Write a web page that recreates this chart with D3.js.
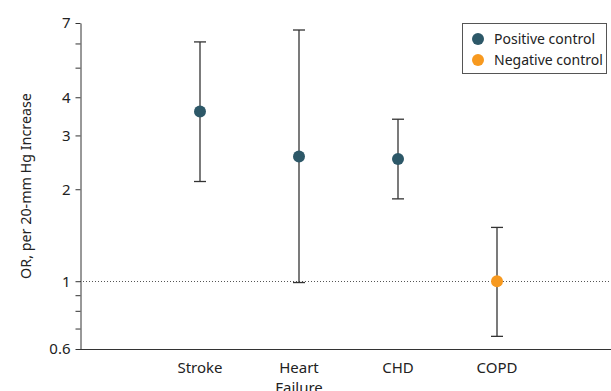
<!DOCTYPE html>
<html>
<head>
<meta charset="utf-8">
<script src="https://cdn.jsdelivr.net/npm/d3@7"></script>
<style>
  body { margin: 0; background: #fff; }
  text { font-family: "Noto Sans", sans-serif; fill: #222; }
</style>
</head>
<body>
<div id="chart"></div>
<script>
var width = 611,
    height = 391;

var margin = {top: 23, right: 0, bottom: 42, left: 80};

// data
var categories = [["Stroke"], ["Heart", "Failure"], ["CHD"], ["COPD"]];
var estimates = [3.59, 2.56, 2.51, 1.0];
var lower = [2.12, 0.99, 1.86, 0.66];
var upper = [6.07, 6.64, 3.39, 1.50];
var groups = ["Positive control", "Positive control", "Positive control", "Negative control"];

var majorTicks = [0.6, 1, 2, 3, 4, 7];
var minorTicks = [0.7, 0.8, 0.9, 5, 6];

var legendItems = ["Positive control", "Negative control"];
var colors = ["#2d5868", "#f7991f"];

var svg = d3.select("#chart")
  .append("svg")
    .attr("width", width)
    .attr("height", height);

var y = d3.scaleLog()
  .domain([0.6, 7])
  .range([height - margin.bottom, margin.top]);

var x = d3.scalePoint()
  .domain(d3.range(categories.length))
  .range([200, 497]);

var color = d3.scaleOrdinal()
  .domain(legendItems)
  .range(colors);

// reference line at OR = 1
svg.append("line")
  .attr("x1", margin.left).attr("x2", width)
  .attr("y1", Math.round(y(1)) + 0.5).attr("y2", Math.round(y(1)) + 0.5)
  .attr("stroke", "#555")
  .attr("stroke-dasharray", "1,2");

// y axis
var yAxis = svg.append("g")
  .attr("transform", "translate(" + (margin.left + 0.5) + ",0)")
  .call(d3.axisLeft(y)
    .tickValues(majorTicks)
    .tickFormat(d3.format("~g"))
    .tickSize(5)
    .tickSizeOuter(0));
yAxis.select(".domain").attr("stroke", "#333");
yAxis.selectAll(".tick line").attr("stroke", "#333");
yAxis.selectAll(".tick text")
  .attr("font-size", 15)
  .attr("font-family", "Noto Sans")
  .attr("fill", "#222")
  .attr("x", -10);

// minor ticks, no labels
svg.append("g")
  .attr("transform", "translate(" + (margin.left + 0.5) + ",0)")
  .call(d3.axisLeft(y).tickValues(minorTicks).tickFormat(function() { return ""; }).tickSize(5))
  .call(function(g) { g.select(".domain").remove(); })
  .selectAll(".tick line").attr("stroke", "#333");

// x baseline
svg.append("line")
  .attr("x1", margin.left).attr("x2", width)
  .attr("y1", y(0.6) + 0.5).attr("y2", y(0.6) + 0.5)
  .attr("stroke", "#333");

// x labels
var xl = svg.selectAll(".xlabel")
  .data(categories)
  .enter().append("text")
    .attr("class", "xlabel")
    .attr("text-anchor", "middle")
    .attr("font-size", 15)
    .attr("y", 373);
xl.selectAll("tspan")
  .data(function(d, i) { return d.map(function(s) { return {s: s, i: i}; }); })
  .enter().append("tspan")
    .attr("x", function(d) { return x(d.i); })
    .attr("dy", function(d, j) { return j ? 20 : 0; })
    .text(function(d) { return d.s; });

// y title
svg.append("text")
  .attr("transform", "translate(31," + ((y(0.6) + y(7)) / 2) + ") rotate(-90)")
  .attr("text-anchor", "middle")
  .attr("font-size", 14.3)
  .text("OR, per 20-mm Hg Increase");

// error bars
var bars = svg.selectAll(".ci")
  .data(estimates)
  .enter().append("g")
    .attr("class", "ci")
    .attr("stroke", "#333")
    .attr("stroke-width", 1.3);
bars.append("line")
  .attr("x1", function(d, i) { return x(i); })
  .attr("x2", function(d, i) { return x(i); })
  .attr("y1", function(d, i) { return y(lower[i]); })
  .attr("y2", function(d, i) { return y(upper[i]); });
bars.append("line")
  .attr("x1", function(d, i) { return x(i) - 6; })
  .attr("x2", function(d, i) { return x(i) + 6; })
  .attr("y1", function(d, i) { return y(lower[i]); })
  .attr("y2", function(d, i) { return y(lower[i]); });
bars.append("line")
  .attr("x1", function(d, i) { return x(i) - 6; })
  .attr("x2", function(d, i) { return x(i) + 6; })
  .attr("y1", function(d, i) { return y(upper[i]); })
  .attr("y2", function(d, i) { return y(upper[i]); });

// points
svg.selectAll(".pt")
  .data(estimates)
  .enter().append("circle")
    .attr("class", "pt")
    .attr("cx", function(d, i) { return x(i); })
    .attr("cy", function(d) { return y(d); })
    .attr("r", 6)
    .attr("fill", function(d, i) { return color(groups[i]); });

// legend
var legend = svg.append("g");
legend.append("rect")
  .attr("x", 462.5).attr("y", 23.5)
  .attr("width", 144).attr("height", 50)
  .attr("fill", "#fff")
  .attr("stroke", "#555");
var li = legend.selectAll(".li")
  .data(legendItems)
  .enter().append("g")
    .attr("transform", function(d, i) { return "translate(478," + (39 + i * 21) + ")"; });
li.append("circle")
  .attr("r", 6)
  .attr("fill", function(d) { return color(d); });
li.append("text")
  .attr("x", 16)
  .attr("dy", "0.35em")
  .attr("font-size", 14)
  .text(function(d) { return d; });
</script>
</body>
</html>
